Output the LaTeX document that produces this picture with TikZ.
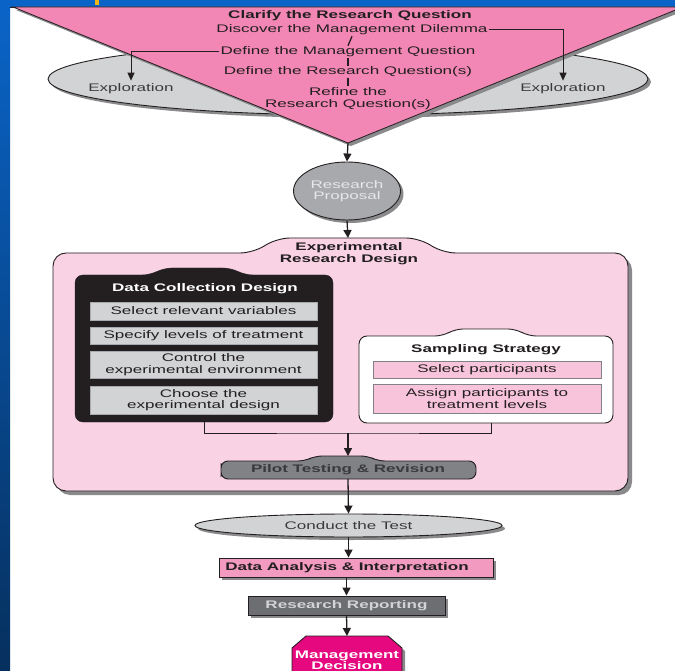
\documentclass[tikz,border=0pt]{standalone}
\usepackage{fontspec}
\setmainfont{Liberation Sans}[FakeStretch=1.55]
\usetikzlibrary{arrows.meta,shapes.geometric,shadows}

\definecolor{slideblue}{HTML}{0A64C8}
\definecolor{slidedark}{HTML}{06305E}
\definecolor{slideyellow}{HTML}{F2B417}
\definecolor{tripink}{HTML}{F286B4}
\definecolor{boxpink}{HTML}{F9D2E4}
\definecolor{itempink}{HTML}{F8C4DB}
\definecolor{dapink}{HTML}{F39AC1}
\definecolor{lightgrey}{HTML}{D1D3D4}
\definecolor{midgrey}{HTML}{A7A9AC}
\definecolor{pilotgrey}{HTML}{808285}
\definecolor{darkgrey}{HTML}{6D6E71}
\definecolor{shadowc}{HTML}{8A8A8D}
\definecolor{ink}{HTML}{231F20}
\definecolor{softink}{HTML}{3A3A3C}
\definecolor{paleink}{HTML}{E6E7E8}
\definecolor{magentabox}{HTML}{E6087F}

% rounded box with a low tab on its top edge:
% #1 left, #2 top, #3 right, #4 bottom, #5/#6 tab base ends, #7 tab height, #8 tab slant
\newcommand\tabbedpath[8]{(#1,#2/2+#4/2) -- (#1,#2) -- (#5,#2) -- (#5+#8,#2-#7) -- (#6-#8,#2-#7) -- (#6,#2) -- (#3,#2) -- (#3,#4) -- (#1,#4) -- cycle}

\begin{document}
\begin{tikzpicture}[x=1pt,y=-1pt,
  txt/.style={inner sep=1pt, text=ink, align=center, font=\fontsize{11}{11.5}\selectfont},
  btxt/.style={txt, font=\fontsize{11}{11.5}\selectfont\bfseries},
  outline/.style={draw=ink, line width=0.9pt},
  shade3/.style={drop shadow={shadow xshift=3pt, shadow yshift=-3pt, fill=shadowc, opacity=1}},
  shade4/.style={drop shadow={shadow xshift=4pt, shadow yshift=-4pt, fill=shadowc, opacity=1}},
  link/.style={draw=ink, line width=1pt},
  tick/.style={draw=ink, line width=1.3pt},
  flow/.style={draw=ink, line width=1.3pt, -{Triangle[width=8pt,length=8pt]}},
  thinflow/.style={draw=ink, line width=1pt, -{Triangle[width=7pt,length=8pt]}},
  greyitem/.style={txt, draw=midgrey, line width=0.6pt, fill=lightgrey, minimum width=227pt, inner sep=0pt},
  pinkitem/.style={txt, draw=pilotgrey, line width=0.6pt, fill=itempink, minimum width=228pt, inner sep=0pt}]

\useasboundingbox (0,0) rectangle (675,671);

% slide background
\fill[white] (0,0) rectangle (675,671);
\shade[top color=slideblue, bottom color=slidedark] (0,0) rectangle (10,671);
\fill[slideblue] (0,0) rectangle (675,7);
\fill[slideyellow] (95,0) rectangle (99,5);
\draw[ink, line width=0.8pt] (10,7) -- (675,7);

% exploration ellipse behind the funnel
\path[outline, fill=lightgrey, shade3] (348,79) ellipse [x radius=300, y radius=36];

% funnel
\path[draw=ink, line width=0.8pt, fill=tripink, shade3]
  (13,7) -- (683,7) -- (348,143) coordinate (apex) -- cycle;

\node[btxt] (clar) at (350,16) {Clarify the Research Question};
\node[txt] (dis) at (352,30) {Discover the Management Dilemma};
\node[txt] (dmq) at (348,52) {Define the Management Question};
\node[txt] (drq) at (348,72) {Define the Research Question(s)};
\node[txt] (ref) at (348,98.5) {Refine the\\Research Question(s)};
\node[txt, text=softink] (explL) at (131,89) {Exploration};
\node[txt, text=softink] (explR) at (563,89) {Exploration};

\draw[tick] (dis.south) -- (dmq.north);
\draw[tick] (dmq.south) -- (drq.north);
\draw[tick] (drq.south) -- (ref.north);
\draw[thinflow] (dis.east) -| ([yshift=2pt]explR.north);
\draw[thinflow] (dmq.west) -| ([yshift=2pt]explL.north);

% research proposal
\node[ellipse, outline, fill=midgrey, minimum width=107pt, minimum height=58pt,
      inner sep=0pt, shade3, txt, text=paleink] (rp) at (347,191) {Research\\Proposal};
\draw[flow] (apex) -- (rp.north);

% experimental research design frame
\path[outline, fill=boxpink, rounded corners=13pt, shade4]
  \tabbedpath{53}{253}{628}{491}{253}{443}{15}{24};
\coordinate (erdtab) at (348,238);
\node[btxt] (erd) at (349,253.5) {Experimental\\Research Design};
\draw[flow] (rp.south) -- (erdtab);

% data collection design
\path[draw=ink, fill=ink, rounded corners=8pt]
  \tabbedpath{75}{275}{333}{422}{150}{245}{7}{14};
\node[btxt, text=white] (dcd) at (205,289) {Data Collection Design};
\node[greyitem, minimum height=18pt] (v1) at (203.5,311) {Select relevant variables};
\node[greyitem, minimum height=17pt] (v2) at (203.5,335.5) {Specify levels of treatment};
\node[greyitem, minimum height=27pt] (v3) at (203.5,364.5) {Control the\\experimental environment};
\node[greyitem, minimum height=28pt] (v4) at (203.5,400) {Choose the\\experimental design};
\coordinate (dcdb) at (204,422);

% sampling strategy
\path[outline, fill=white, rounded corners=8pt]
  \tabbedpath{359}{336}{613}{423}{443}{528}{7}{12};
\node[btxt] (ss) at (486,350) {Sampling Strategy};
\node[pinkitem, minimum height=17pt] (p1) at (487,369.5) {Select participants};
\node[pinkitem, minimum height=29pt] (p2) at (487,398.5) {Assign participants to\\treatment levels};
\coordinate (ssb) at (491,423);

% joining the two designs
\coordinate (merge) at (348,433);
\draw[link] (dcdb) |- (merge) -| (ssb);

% pilot testing
\path[outline, fill=pilotgrey, rounded corners=7pt]
  \tabbedpath{221}{461}{476}{479}{305}{378}{5}{10};
\coordinate (pilottab) at (348,456);
\coordinate (pilotb) at (348,479);
\node[btxt, text=softink] (pilot) at (348,470) {Pilot Testing \& Revision};
\draw[flow] (merge) -- (pilottab);

% lower chain
\node[ellipse, outline, fill=lightgrey, minimum width=307pt, minimum height=23pt,
      inner sep=0pt, shade3, txt, text=softink] (ct) at (348.5,525.5) {Conduct the Test};
\draw[flow] (pilotb) -- (ct.north);

\node[outline, fill=dapink, minimum width=274pt, minimum height=19pt, inner sep=0pt,
      shade3] (dabox) at (356,567.5) {};
\node[btxt] (da) at (347,567.5) {Data Analysis \& Interpretation};
\draw[flow] (ct.south) -- (ct.south |- dabox.north);

\node[outline, fill=darkgrey, minimum width=197pt, minimum height=19pt, inner sep=0pt,
      shade3, btxt, text=lightgrey] (rr) at (346.5,605.5) {Research Reporting};
\draw[flow] (dabox.south -| rr.north) -- (rr.north);

\path[outline, fill=magentabox, shade3]
  (306,636) -- (388,636) -- (402,648) -- (402,700) -- (292,700) -- (292,648) -- cycle;
\coordinate (mdtop) at (347,636);
\node[btxt, text=white] (md) at (347,660.5) {Management\\Decision};
\draw[flow] (rr.south) -- (mdtop);

\end{tikzpicture}
\end{document}
